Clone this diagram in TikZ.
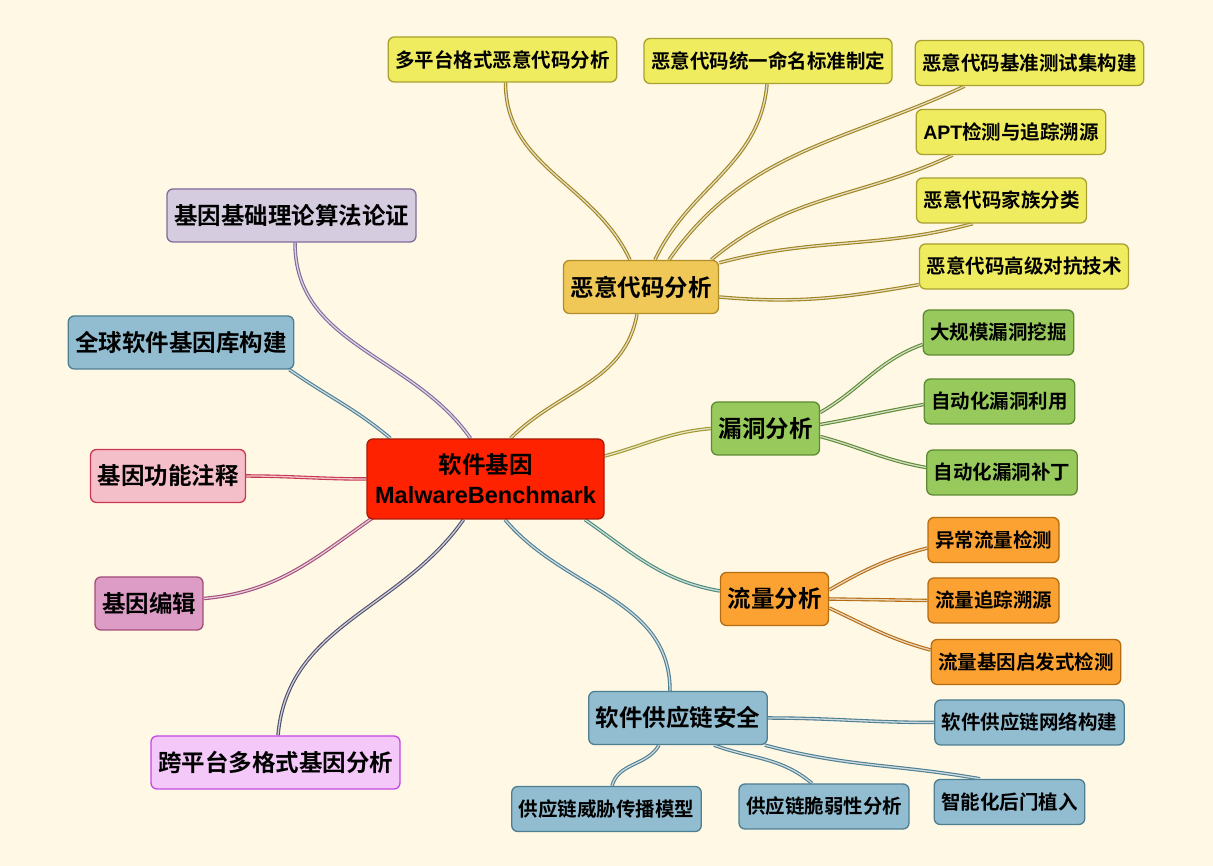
\documentclass[tikz,border=0pt]{standalone}
\usepackage{fontspec}
\setmainfont{Noto Sans CJK SC}[BoldFont={Noto Sans CJK SC Bold}]
\newfontfamily\lsf{Liberation Sans}
\usetikzlibrary{backgrounds}

\definecolor{bgc}{HTML}{FFF8E4}
\definecolor{rootfill}{HTML}{FF2200}
\definecolor{rootdraw}{HTML}{A81A08}
\definecolor{malfill}{HTML}{F0C858}
\definecolor{maldraw}{HTML}{B08E28}
\definecolor{yelfill}{HTML}{F0EC60}
\definecolor{yeldraw}{HTML}{A8A030}
\definecolor{golink}{HTML}{A08420}
\definecolor{olivelink}{HTML}{A0962C}
\definecolor{grnfill}{HTML}{98C95C}
\definecolor{grndraw}{HTML}{5E8A35}
\definecolor{orgfill}{HTML}{FBA233}
\definecolor{orgdraw}{HTML}{B46C12}
\definecolor{teallink}{HTML}{4A8A7A}
\definecolor{bluefill}{HTML}{92BDD1}
\definecolor{bluedraw}{HTML}{4D7E92}
\definecolor{lilfill}{HTML}{D6CCE0}
\definecolor{lildraw}{HTML}{806A9C}
\definecolor{pinkfill}{HTML}{F5BFC9}
\definecolor{pinkdraw}{HTML}{C8364F}
\definecolor{magfill}{HTML}{DC9CC6}
\definecolor{magdraw}{HTML}{A34D7A}
\definecolor{viofill}{HTML}{F4C8F8}
\definecolor{viodraw}{HTML}{C448E4}
\definecolor{slatelink}{HTML}{505070}

\begin{document}
\begin{tikzpicture}[x=1pt, y=1pt,
  box/.style 2 args={draw=#2, fill=#1, line width=1.3pt, rounded corners=6pt,
    inner xsep=7pt, inner ysep=0pt, minimum height=45pt,
    font=\bfseries\fontsize{19.5}{23}\selectfont},
  topic/.style 2 args={box={#1}{#2}, minimum height=53pt,
    font=\bfseries\fontsize{23.5}{28}\selectfont},
  link/.style={draw=#1, double=#1!28!white, line width=1.1pt, double distance=1.3pt}]
  \useasboundingbox (0,0) rectangle (1213,866);

  \node [topic={rootfill}{rootdraw}, minimum width=237pt, minimum height=80pt, align=center]
    (root) at (485.5,387) {软件基因\\[2pt]{\lsf MalwareBenchmark}};

  \node [topic={malfill}{maldraw}] (mal) at (641,579) {恶意代码分析};
  \node [box={yelfill}{yeldraw}] (mp) at (502.5,806.5) {多平台格式恶意代码分析};
  \node [box={yelfill}{yeldraw}] (tm) at (768,805) {恶意代码统一命名标准制定};
  \node [box={yelfill}{yeldraw}] (jz) at (1029.5,803) {恶意代码基准测试集构建};
  \node [box={yelfill}{yeldraw}] (apt) at (1011,734) {{\lsf APT}检测与追踪溯源};
  \node [box={yelfill}{yeldraw}] (jzfl) at (1001.5,665.5) {恶意代码家族分类};
  \node [box={yelfill}{yeldraw}] (gj) at (1024,599.5) {恶意代码高级对抗技术};

  \node [topic={grnfill}{grndraw}] (vul) at (765.5,437.5) {漏洞分析};
  \node [box={grnfill}{grndraw}] (dg) at (998.5,533.5) {大规模漏洞挖掘};
  \node [box={grnfill}{grndraw}] (ly) at (999.5,464.5) {自动化漏洞利用};
  \node [box={grnfill}{grndraw}] (bd) at (1002,393.5) {自动化漏洞补丁};

  \node [topic={orgfill}{orgdraw}] (flow) at (774.5,267) {流量分析};
  \node [box={orgfill}{orgdraw}] (yc) at (993.5,326) {异常流量检测};
  \node [box={orgfill}{orgdraw}] (zs) at (993.5,265.5) {流量追踪溯源};
  \node [box={orgfill}{orgdraw}] (qf) at (1026,204) {流量基因启发式检测};

  \node [topic={bluefill}{bluedraw}] (sup) at (678,148) {软件供应链安全};
  \node [box={bluefill}{bluedraw}] (wl) at (1029.5,143.5) {软件供应链网络构建};
  \node [box={bluefill}{bluedraw}] (wx) at (606.5,57) {供应链威胁传播模型};
  \node [box={bluefill}{bluedraw}] (cr) at (824,59.5) {供应链脆弱性分析};
  \node [box={bluefill}{bluedraw}] (hm) at (1009.5,64) {智能化后门植入};

  \node [topic={lilfill}{lildraw}] (jc) at (291.5,650.5) {基因基础理论算法论证};
  \node [topic={bluefill}{bluedraw}] (qq) at (181,523.5) {全球软件基因库构建};
  \node [topic={pinkfill}{pinkdraw}] (gn) at (168,390) {基因功能注释};
  \node [topic={magfill}{magdraw}] (bj) at (149,262.5) {基因编辑};
  \node [topic={viofill}{viodraw}] (kp) at (275.5,103.5) {跨平台多格式基因分析};

  \begin{scope}[on background layer]
    \fill [bgc] (0,0) rectangle (1213,866);
    \path
    ([xshift=25pt]root.north) edge [link=golink, out=45, in=-100] ([xshift=-4pt]mal.south)
    ([yshift=23pt]root.east) edge [link=olivelink, out=15, in=185] (vul.west)
    ([xshift=99.5pt]root.south) edge [link=teallink, out=-35, in=170] ([yshift=8pt]flow.west)
    ([xshift=19.5pt]root.south) edge [link=bluedraw, out=-50, in=90] ([xshift=-8pt]sup.north)
    ([xshift=3.5pt]jc.south) edge [link=lildraw, out=-90, in=125] ([xshift=-15pt]root.north)
    ([xshift=-5pt]qq.south east) edge [link=bluedraw, out=-35, in=140] ([xshift=-95pt]root.north)
    (gn.east) edge [link=pinkdraw, out=0, in=180] (root.west)
    ([yshift=5pt]bj.east) edge [link=magdraw, out=5, in=-145] ([xshift=8pt,yshift=3pt]root.south west)
    ([xshift=2.5pt]kp.north) edge [link=slatelink, out=85, in=-125] ([xshift=-22pt]root.south)
    ;
    \path
    ([xshift=-11pt]mal.north) edge [link=golink, out=115, in=-90] ([xshift=3pt]mp.south)
    ([xshift=14pt]mal.north) edge [link=golink, out=65, in=-95] ([xshift=-1pt]tm.south)
    ([xshift=28pt]mal.north) edge [link=golink, out=55, in=-155] ([xshift=50pt]jz.south west)
    ([xshift=-8pt]mal.north east) edge [link=golink, out=40, in=-155] ([xshift=37pt]apt.south west)
    ([yshift=-3pt]mal.north east) edge [link=golink, out=15, in=-165] ([xshift=57pt]jzfl.south west)
    ([yshift=-10pt]mal.east) edge [link=golink, out=-5, in=-170] ([yshift=5pt]gj.south west)
    ([yshift=16pt]vul.east) edge [link=grndraw, out=30, in=-160] ([yshift=-12pt]dg.west)
    ([yshift=4pt]vul.east) edge [link=grndraw, out=10, in=-170] ([yshift=-3pt]ly.west)
    ([yshift=-8pt]vul.east) edge [link=grndraw, out=-15, in=170] ([yshift=5pt]bd.west)
    ([yshift=9pt]flow.east) edge [link=orgdraw, out=30, in=-165] ([yshift=-8pt]yc.west)
    (flow.east) edge [link=orgdraw] (zs.west)
    ([yshift=-9pt]flow.east) edge [link=orgdraw, out=-25, in=165] ([yshift=12pt]qf.west)
    (sup.east) edge [link=bluedraw, out=0, in=180] (wl.west)
    ([xshift=-19pt]sup.south) edge [link=bluedraw, out=-120, in=75] ([xshift=5.5pt]wx.north)
    ([xshift=36pt]sup.south) edge [link=bluedraw, out=-20, in=140] ([xshift=-12pt]cr.north)
    ([xshift=-3pt]sup.south east) edge [link=bluedraw, out=-15, in=170] ([xshift=-29.5pt]hm.north)
    ;
  \end{scope}
\end{tikzpicture}
\end{document}
